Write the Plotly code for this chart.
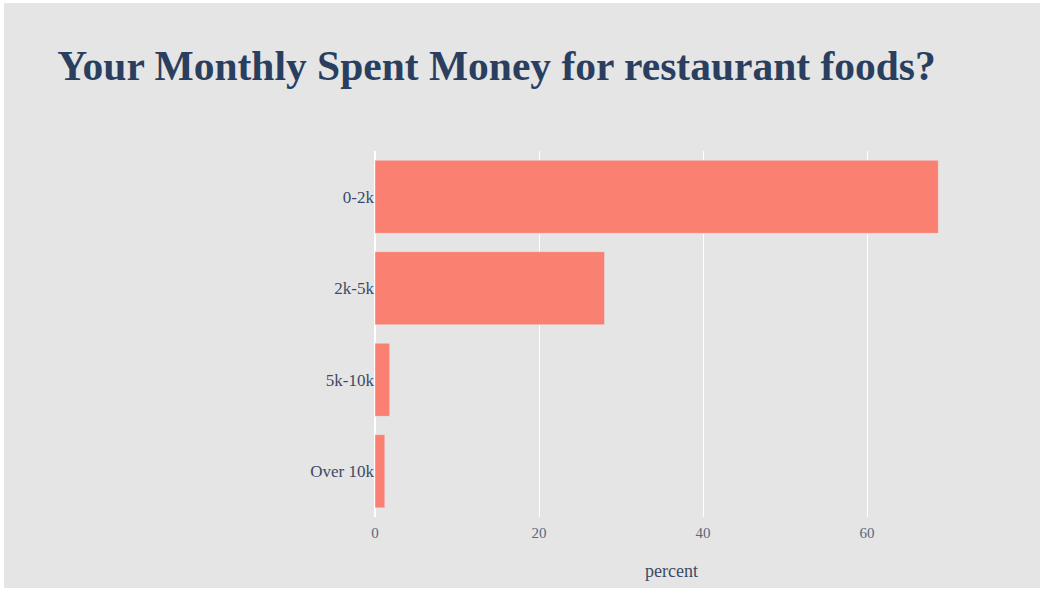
import plotly.graph_objects as go

# Survey answers: monthly spending on restaurant food
categories = ["0-2k", "2k-5k", "5k-10k", "Over 10k"]
percent = [68.7, 28.0, 1.8, 1.2]

W, H = 1041, 593
M_L, M_R, M_T, M_B = 375, 73, 151, 76
BG = "#e5e5e5"

fig = go.Figure(
    go.Bar(
        x=percent,
        y=categories,
        orientation="h",
        marker=dict(color="#fa8072"),
    )
)

# thin white frame around the page, placed in paper units
pw = W - M_L - M_R
ph = H - M_T - M_B
def px_x(v):
    return (v - M_L) / pw
def px_y(v):
    return 1 - (v - M_T) / ph

frame = [
    (0, 0, 4, H),        # left
    (0, 0, W, 3),        # top
    (0, H - 5, W, H),    # bottom
    (W - 1, 0, W, H),    # right
]
shapes = [
    dict(type="rect", xref="paper", yref="paper",
         x0=px_x(a), x1=px_x(c), y0=px_y(d), y1=px_y(b),
         fillcolor="white", line=dict(width=0), layer="above")
    for a, b, c, d in frame
]

fig.update_layout(
    width=W,
    height=H,
    margin=dict(l=M_L, r=M_R, t=M_T, b=M_B, autoexpand=False),
    paper_bgcolor=BG,
    plot_bgcolor=BG,
    font=dict(family="Liberation Serif", size=14, color="#506080"),
    title=dict(
        text="<b>Your Monthly Spent Money for restaurant foods?</b>",
        x=0.055,
        xanchor="left",
        y=0.89,
        yanchor="middle",
        font=dict(family="Liberation Serif", size=41.5, color="#2a3f5f"),
    ),
    bargap=0.2,
    shapes=shapes,
    showlegend=False,
)
fig.update_xaxes(
    automargin=False,
    title=dict(text="percent", standoff=24, font=dict(size=18, color="#3a4a66")),
    gridcolor="white",
    gridwidth=1,
    zeroline=True,
    zerolinecolor="white",
    zerolinewidth=2,
    tickvals=[0, 20, 40, 60],
    ticks="outside",
    ticklen=2,
    tickcolor="rgba(0,0,0,0)",
    tickfont=dict(size=15, color="#5a6680"),
)
fig.update_yaxes(
    automargin=False,
    autorange="reversed",
    showgrid=False,
    tickfont=dict(size=17, color="#3a4a66"),
)

fig.write_html("out.html")
